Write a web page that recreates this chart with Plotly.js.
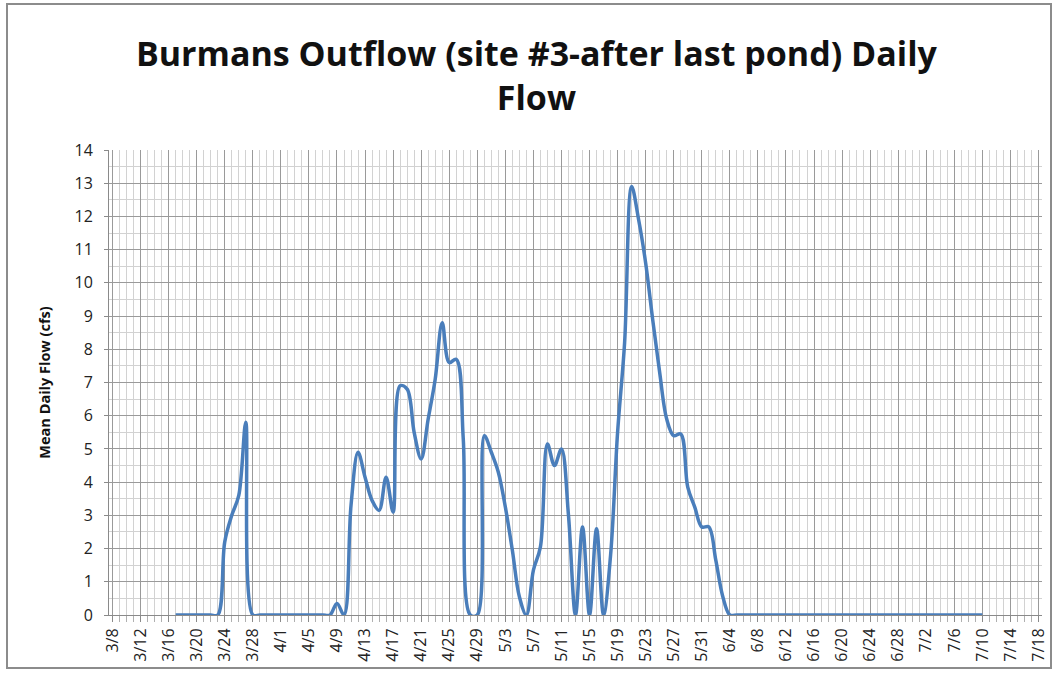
<!DOCTYPE html>
<html>
<head>
<meta charset="utf-8">
<script src="https://cdn.plot.ly/plotly-3.0.1.min.js"></script>
<style>
  html, body { margin: 0; padding: 0; background: #fff; }
  #wrap { position: relative; width: 1058px; height: 674px; }
  #chart { position: absolute; left: 0; top: 0; width: 1058px; height: 674px; }
  #frame { position: absolute; left: 6px; top: 3px; width: 1046px; height: 666px;
           border: 2px solid #8c8c8c; pointer-events: none; box-sizing: border-box; }
</style>
</head>
<body>
<div id="wrap">
  <div id="chart"></div>
  <div id="frame"></div>
</div>
<script>
// ---- data ----
const YEAR = '2013';
const dayLabels = [
  '03-17','03-18','03-19','03-20','03-21','03-22','03-23','03-24','03-25','03-26',
  '03-27','03-28','03-29','03-30','03-31','04-01','04-02','04-03','04-04','04-05',
  '04-06','04-07','04-08','04-09','04-10','04-11','04-12','04-13','04-14','04-15',
  '04-16','04-17','04-18','04-19','04-20','04-21','04-22','04-23','04-24','04-25',
  '04-26','04-27','04-28','04-29','04-30','05-01','05-02','05-03','05-04','05-05',
  '05-06','05-07','05-08','05-09','05-10','05-11','05-12','05-13','05-14','05-15',
  '05-16','05-17','05-18','05-19','05-20','05-21','05-22','05-23','05-24','05-25',
  '05-26','05-27','05-28','05-29','05-30','05-31','06-01','06-02','06-03','06-04',
  '06-05','06-06','06-07','06-08','06-09','06-10','06-11','06-12','06-13','06-14',
  '06-15','06-16','06-17','06-18','06-19','06-20','06-21','06-22','06-23','06-24',
  '06-25','06-26','06-27','06-28','06-29','06-30','07-01','07-02','07-03','07-04',
  '07-05','07-06','07-07','07-08','07-09','07-10'
];
const meanDailyFlow = [
  0, 0, 0, 0, 0, 0, 0, 2.2, 3.0, 3.6,
  5.8, 0, 0, 0, 0, 0, 0, 0, 0, 0,
  0, 0, 0, 0.35, 0, 3.3, 4.9, 4.15, 3.45, 3.15,
  4.15, 3.1, 6.9, 6.8, 5.5, 4.7, 5.9, 7.1, 8.8, 7.6,
  7.7, 5.3, 0, 0, 5.4, 4.9, 4.3, 3.25, 1.95, 0.55,
  0, 1.35, 2.05, 5.15, 4.5, 5.0, 3.0, 0, 2.65, 0,
  2.6, 0, 1.8, 5.5, 8.2, 12.9, 11.9, 10.6, 8.9, 7.3,
  5.9, 5.4, 5.45, 3.85, 3.25, 2.65, 2.65, 1.65, 0.55, 0,
  0, 0, 0, 0, 0, 0, 0, 0, 0, 0,
  0, 0, 0, 0, 0, 0, 0, 0, 0, 0,
  0, 0, 0, 0, 0, 0, 0, 0, 0, 0,
  0, 0, 0, 0, 0, 0
];
const titleText = 'Burmans Outflow (site #3-after last pond) Daily<br>Flow';
const yTitleText = 'Mean Daily Flow (cfs)';
const xRange = ['2013-03-07 12:00', '2013-07-18 12:00'];
const firstTick = '2013-03-08';

const dates = dayLabels.map(d => YEAR + '-' + d);
const DAY = 86400000;
const FONT = '"Open Sans", Lato, "DejaVu Sans", sans-serif';

const trace = {
  x: dates,
  y: meanDailyFlow,
  type: 'scatter',
  mode: 'lines',
  line: { color: '#4a7ebb', width: 3.5, shape: 'spline', smoothing: 1 },
  hoverinfo: 'x+y'
};

const layout = {
  width: 1058,
  height: 674,
  paper_bgcolor: '#ffffff',
  plot_bgcolor: '#ffffff',
  margin: { l: 109, r: 16, t: 150, b: 59 },
  showlegend: false,
  title: {
    text: titleText,
    font: { family: FONT, size: 34, color: '#111', weight: 'bold' },
    x: 0.507, xanchor: 'center',
    yref: 'container', y: 0.902, yanchor: 'middle'
  },
  xaxis: {
    type: 'date',
    range: xRange,
    tick0: firstTick,
    dtick: 4 * DAY,
    tickformat: '%-m/%-d',
    tickangle: -90,
    tickfont: { family: FONT, size: 16, color: '#222' },
    ticks: 'outside', ticklen: 6, tickcolor: '#8a8a8a',
    showgrid: true, gridcolor: '#9a9a9a', gridwidth: 1,
    minor: { dtick: DAY, tick0: firstTick, showgrid: true, gridcolor: '#d2d2d2',
             ticks: 'outside', ticklen: 6, tickcolor: '#b0b0b0' },
    showline: true, linecolor: '#8a8a8a', linewidth: 1,
    zeroline: false,
    fixedrange: true
  },
  yaxis: {
    range: [0, 14],
    dtick: 1,
    tick0: 0,
    tickfont: { family: FONT, size: 16, color: '#222' },
    ticks: 'outside', ticklen: 4, tickcolor: '#8a8a8a',
    ticklabelstandoff: 8,
    showgrid: true, gridcolor: '#9a9a9a', gridwidth: 1,
    minor: { dtick: 0.5, showgrid: true, gridcolor: '#d2d2d2' },
    showline: true, linecolor: '#8a8a8a', linewidth: 1,
    zeroline: false,
    title: { text: yTitleText, font: { family: FONT, size: 14.5, color: '#111', weight: 'bold' }, standoff: 20 },
    fixedrange: true
  }
};

Plotly.newPlot('chart', [trace], layout, { displayModeBar: false, staticPlot: true });
</script>
</body>
</html>
